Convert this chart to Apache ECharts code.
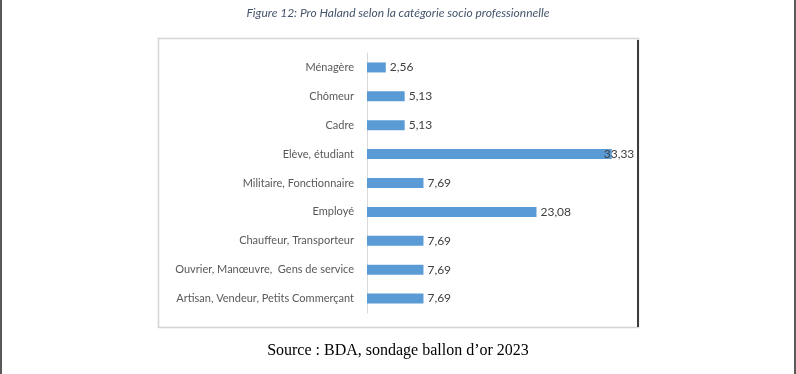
<!DOCTYPE html>
<html><head><meta charset="utf-8">
<script src="https://cdn.jsdelivr.net/npm/echarts@6/dist/echarts.min.js"></script>
<style>html,body{margin:0;padding:0;background:#fff}#c{width:796px;height:374px}</style>
</head><body><div id="c"></div>
<script>
const categories = ["Ménagère","Chômeur","Cadre","Elève, étudiant","Militaire, Fonctionnaire","Employé","Chauffeur, Transporteur","Ouvrier, Manœuvre,  Gens de service","Artisan, Vendeur, Petits Commerçant"];
const values = [2.56,5.13,5.13,33.33,7.69,23.08,7.69,7.69,7.69];
const titleText = "Figure 12: Pro Haland selon la catégorie socio professionnelle";
const sourceText = "Source : BDA, sondage ballon d\u2019or 2023";

const chart = echarts.init(document.getElementById('c'), null, {renderer:'canvas'});
chart.setOption({
  animation:false,
  title:{text:titleText,left:'center',top:2,textStyle:{fontFamily:'Lato',fontStyle:'italic',fontWeight:'normal',fontSize:12,color:'#44546A'}},
  graphic:[
    {type:'rect',shape:{x:0,y:0,width:2,height:374},style:{fill:'#5a5a5a'},silent:true},
    {type:'rect',shape:{x:794,y:0,width:2,height:374},style:{fill:'#5a5a5a'},silent:true},
    {type:'rect',shape:{x:158.5,y:38.5,width:480,height:289},style:{fill:'none',stroke:'#d4d4d4',lineWidth:1.5},silent:true},
    {type:'line',shape:{x1:638,y1:40,x2:638,y2:327},style:{stroke:'#3c3c3c',lineWidth:2},silent:true},
    {type:'text',left:'center',top:343,style:{text:sourceText,font:'16px "Liberation Serif"',fill:'#000'}}
  ],
  grid:{left:367,top:53,width:257,height:260,containLabel:false},
  xAxis:{type:'value',min:0,max:35,show:false},
  yAxis:{type:'category',data:categories,inverse:true,
    axisLine:{show:true,lineStyle:{color:'#d9d9d9',width:1}},
    axisTick:{show:false},
    axisLabel:{margin:13,fontFamily:'Lato',fontSize:11,color:'#595959'}},
  series:[{type:'bar',data:values.map((v,i)=>i===3?{value:v,label:{offset:[-12,0]}}:v),barWidth:10,
    itemStyle:{color:'#5b9bd5'},
    label:{show:true,position:'right',distance:4,fontFamily:'Lato',fontSize:12,color:'#404040',
      formatter:p=>p.value.toFixed(2).replace('.',',')}}]
});
</script></body></html>
